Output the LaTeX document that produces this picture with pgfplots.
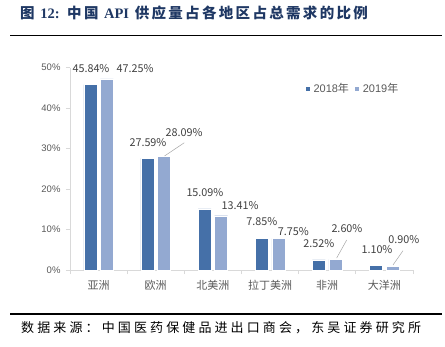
\documentclass[border=0pt]{standalone}
\usepackage{fontspec}
\setmainfont{Liberation Sans}
\newfontfamily\cjk{Noto Sans CJK SC}
\newfontfamily\cjksrc[LetterSpace=24]{Noto Sans CJK SC}
\newfontfamily\cjktitle[LetterSpace=16]{Noto Sans CJK SC}
\newfontfamily\titleserif{Liberation Serif}
\usepackage{pgfplots}
\pgfplotsset{compat=1.18}
\definecolor{cA}{HTML}{4570A8}
\definecolor{cB}{HTML}{93A9D1}
\definecolor{axgray}{HTML}{D9D9D9}
\definecolor{txtgray}{HTML}{595959}
\definecolor{lblgray}{HTML}{404040}
\definecolor{navy}{HTML}{1F3864}
\begin{document}
\begin{tikzpicture}
\path[use as bounding box] (0pt,0pt) rectangle (445pt,-346pt);
% title
\node[anchor=west,text=navy,inner sep=0pt] at (20pt,-13pt) {\fontsize{14.5}{16}\selectfont\bfseries\cjktitle 图 {\titleserif\bfseries 12:} 中国 {\titleserif\bfseries API} 供应量占各地区占总需求的比例};
\draw[line width=1.3pt] (10pt,-35.5pt) -- (442pt,-35.5pt);
\draw[line width=1.3pt] (10pt,-314pt) -- (442pt,-314pt);
\node[anchor=west,inner sep=0pt] at (21pt,-328pt) {\fontsize{13}{15}\selectfont\cjksrc 数据来源：中国医药保健品进出口商会，东吴证券研究所};
\begin{axis}[
  at={(70pt,-270pt)}, anchor=south west,
  scale only axis, width=343pt, height=202.3pt,
  ymin=0, ymax=50, xmin=-0.5, xmax=5.5,
  ybar=3.5pt, bar width=13pt,
  axis line style={axgray, line width=0.8pt},
  axis x line*=bottom, axis y line*=left,
  tick align=outside,
  xtick={0,...,5},
  xticklabels={亚洲,欧洲,北美洲,拉丁美洲,非洲,大洋洲},
  major x tick style={draw=none},
  minor xtick={-0.5,0.5,...,5.5},
  minor x tick style={axgray, line width=0.8pt},
  minor tick length=4pt,
  ytick={0,10,...,50},
  yticklabels={0\%,10\%,20\%,30\%,40\%,50\%},
  major y tick style={axgray, line width=0.8pt},
  major tick length=4pt,
  yticklabel style={font=\fontsize{9.5}{11}\selectfont, text=txtgray, xshift=-2pt},
  xticklabel style={font=\fontsize{11}{13}\selectfont\cjk, text=txtgray, yshift=-3pt},
  clip=false,
  legend style={at={(0.675,0.895)}, anchor=west, draw=none, fill=none,
    legend columns=2, font=\fontsize{11}{13}\selectfont, text=txtgray,
    /tikz/every even column/.append style={column sep=3pt},
    /tikz/every odd column/.append style={column sep=1pt}},
  legend image code/.code={\fill[#1] (0pt,-2.7pt) rectangle (5.4pt,2.7pt);},
]
\addplot[fill=cA, draw=white, line width=0.4pt] coordinates {(0,45.84) (1,27.59) (2,15.09) (3,7.85) (4,2.52) (5,1.10)};
\addlegendentry{2018{\cjk 年}}
\addplot[fill=cB, draw=white, line width=0.4pt] coordinates {(0,47.25) (1,28.09) (2,13.41) (3,7.75) (4,2.60) (5,0.90)};
\addlegendentry{2019{\cjk 年}}
\begin{scope}[every node/.style={font=\fontsize{10.8}{12}\selectfont\cjk, text=lblgray, inner sep=0pt}]
\node at (axis cs:-0.133,49.68) {45.84\%};
\node at (axis cs:0.637,49.68) {47.25\%};
\node at (axis cs:0.864,31.46) {27.59\%};
\node at (axis cs:1.494,33.94) {28.09\%};
\node at (axis cs:1.861,19.03) {15.09\%};
\node at (axis cs:2.474,15.89) {13.41\%};
\node at (axis cs:2.858,11.86) {7.85\%};
\node at (axis cs:3.409,9.39) {7.75\%};
\node at (axis cs:3.855,6.43) {2.52\%};
\node at (axis cs:4.345,10.13) {2.60\%};
\node at (axis cs:4.870,4.94) {1.10\%};
\node at (axis cs:5.342,7.41) {0.90\%};
\end{scope}
\draw[gray!70, line width=0.5pt] (axis cs:1.153,28.18) -- (axis cs:1.5,31.46);
\draw[gray!70, line width=0.5pt] (axis cs:4.165,2.97) -- (axis cs:4.34,7.41);
\draw[gray!70, line width=0.5pt] (axis cs:5.15,1.24) -- (axis cs:5.325,4.77);
\end{axis}
\end{tikzpicture}
\end{document}
